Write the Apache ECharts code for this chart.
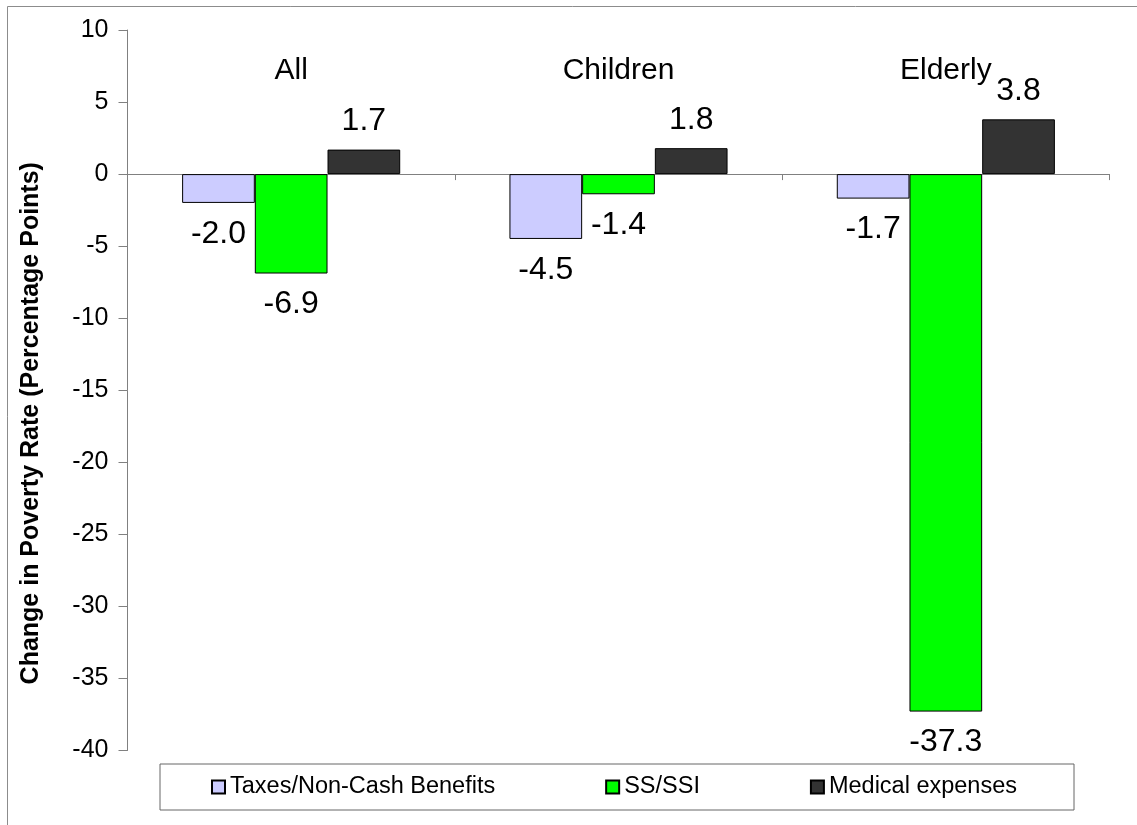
<!DOCTYPE html>
<html>
<head>
<meta charset="utf-8">
<title>Change in Poverty Rate</title>
<script src="https://cdn.jsdelivr.net/npm/echarts@6/dist/echarts.min.js"></script>
<style>
  html, body { margin: 0; padding: 0; background: #fff; }
  #chart { width: 1137px; height: 825px; }
</style>
</head>
<body>
<div id="chart"></div>
<script>
// Groups shown along the category axis
const categories = ['All', 'Children', 'Elderly'];

// Change in poverty rate, percentage points, per group
const taxesNonCash = [-2.0, -4.5, -1.7];
const ssSsi = [-6.9, -1.4, -37.3];
const medicalExpenses = [1.7, 1.8, 3.8];

const seriesNames = ['Taxes/Non-Cash Benefits', 'SS/SSI', 'Medical expenses'];
const seriesColors = ['#CCCCFF', '#00FF00', '#333333'];

const yTicks = { min: -40, max: 10, step: 5 };

const FONT = '"Liberation Sans", Arial, Helvetica, sans-serif';

// Labels sit outside the end of each bar: above positive bars, below negative ones
function withLabels(values) {
  return values.map(v => ({
    value: v,
    label: v >= 0
      ? { position: 'top', distance: 12 }
      : { position: 'bottom', distance: 15 }
  }));
}

function barSeries(name, values, color) {
  return {
    name: name,
    type: 'bar',
    xAxisIndex: 0,
    barWidth: 72.7,
    barGap: '0%',
    data: withLabels(values),
    itemStyle: { color: color, borderColor: '#000', borderWidth: 1 },
    label: {
      show: true,
      fontFamily: FONT,
      fontSize: 32,
      color: '#000',
      formatter: p => p.value.toFixed(1)
    },
    emphasis: { disabled: true }
  };
}

const chart = echarts.init(document.getElementById('chart'), null, { renderer: 'canvas' });

chart.setOption({
  backgroundColor: '#fff',
  animation: false,
  textStyle: { fontFamily: FONT },
  graphic: [{
    type: 'rect',
    shape: { x: 7.5, y: 6.5, width: 1300, height: 1000 },
    style: { fill: 'none', stroke: '#8c8c8c', lineWidth: 1 },
    silent: true
  }],
  grid: { left: 127.5, right: 27.5, top: 30, bottom: 74.5 },
  legend: {
    data: seriesNames,
    left: 160,
    top: 764,
    orient: 'horizontal',
    padding: [11, 57, 11, 51],
    itemGap: 110,
    itemWidth: 13,
    itemHeight: 13,
    icon: 'rect',
    borderColor: '#666',
    borderWidth: 1,
    selectedMode: false,
    textStyle: { fontFamily: FONT, fontSize: 23.5, color: '#000' }
  },
  xAxis: [{
    type: 'category',
    data: categories,
    position: 'bottom',
    axisLine: { onZero: true, lineStyle: { color: '#808080', width: 1 } },
    axisTick: { show: true, length: 6, interval: 0, lineStyle: { color: '#808080' } },
    axisLabel: { show: false },
    splitLine: { show: false }
  }, {
    type: 'category',
    data: categories,
    position: 'top',
    axisLine: { show: false, onZero: false },
    axisTick: { show: false },
    axisLabel: { show: true, inside: true, margin: 26, fontFamily: FONT, fontSize: 30, color: '#000' },
    splitLine: { show: false }
  }],
  yAxis: {
    type: 'value',
    min: yTicks.min,
    max: yTicks.max,
    interval: yTicks.step,
    name: 'Change in Poverty Rate (Percentage Points)',
    nameLocation: 'middle',
    nameGap: 84,
    nameTextStyle: {
      fontFamily: FONT,
      fontSize: 25,
      fontWeight: 'bold',
      color: '#000',
      padding: [0, 66, 0, 0]
    },
    axisLine: { show: true, lineStyle: { color: '#808080', width: 1 } },
    axisTick: { show: true, length: 9, lineStyle: { color: '#808080' } },
    axisLabel: { fontFamily: FONT, fontSize: 25, color: '#000', margin: 19 },
    splitLine: { show: false }
  },
  series: [
    barSeries(seriesNames[0], taxesNonCash, seriesColors[0]),
    barSeries(seriesNames[1], ssSsi, seriesColors[1]),
    barSeries(seriesNames[2], medicalExpenses, seriesColors[2])
  ]
});
</script>
</body>
</html>
